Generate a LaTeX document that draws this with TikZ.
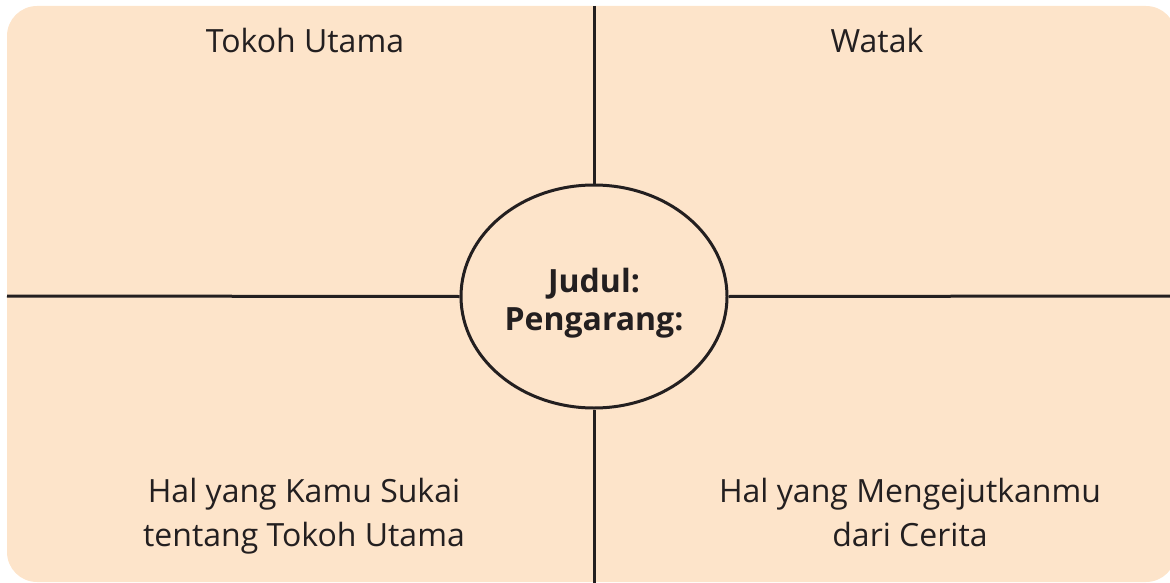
\documentclass[tikz,border=0pt]{standalone}
\usepackage{fontspec}
\setmainfont{Open Sans}
\usetikzlibrary{shapes.geometric}
\definecolor{ink}{HTML}{231F20}
\definecolor{peach}{HTML}{FDE4CA}
\tikzset{
  every picture/.style={x=1pt, y=-1pt, line width=3pt, draw=ink, text=ink},
  card/.style={fill=peach, draw=none, rounded corners=30pt},
  hub/.style={ellipse, draw=ink, fill=peach, minimum width=266pt, minimum height=223pt, inner sep=0pt},
  hubtext/.style={align=center, anchor=base, font=\fontsize{32}{38}\selectfont\bfseries},
  heading/.style={align=center, anchor=base, font=\fontsize{32}{44}\selectfont},
  divider/.style={draw=ink, line width=3pt},
}
\begin{document}
\begin{tikzpicture}
\useasboundingbox (0,0) rectangle (1170,583);
\fill[card] (7,6) rectangle (1176,582);
% edges of the card
\coordinate (top) at (594,6);
\coordinate (bottom) at (594,583);
\coordinate (left) at (7,296);
\coordinate (right) at (1170,296);
\node[hub] (hub) at (594,296.5) {};
\node[hubtext] (judul) at (594,330) {Judul:\\Pengarang:};
\draw[divider] (top) -- (hub.north);
\draw[divider] (hub.south) -- (bottom);
\draw[divider] (left) -- (hub.west);
\draw[divider] (hub.east) -- (right);
% quadrant titles
\node[heading] (tokoh) at (305,53) {Tokoh Utama};
\node[heading] (watak) at (877,53) {Watak};
\node[heading] (suka) at (304,546) {Hal yang Kamu Sukai\\tentang Tokoh Utama};
\node[heading] (kejut) at (910,546) {Hal yang Mengejutkanmu\\dari Cerita};
\end{tikzpicture}
\end{document}
